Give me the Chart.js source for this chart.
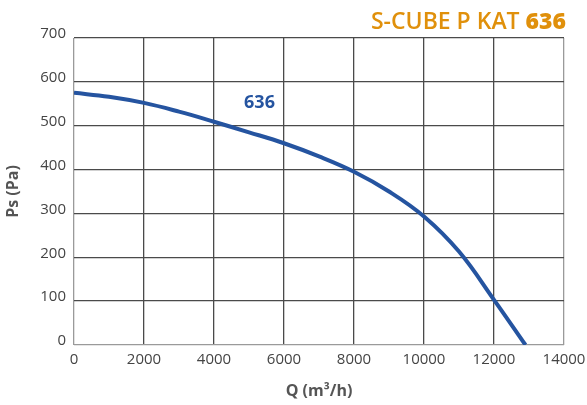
<!DOCTYPE html>
<html>
<head>
<meta charset="utf-8">
<script src="https://cdn.jsdelivr.net/npm/chart.js@4"></script>
<style>
  html, body { margin: 0; padding: 0; background: #fff; }
  #wrap { width: 587px; height: 405px; }
</style>
</head>
<body>
<div id="wrap"><canvas id="grafica" width="587" height="405"></canvas></div>
<script>
// datos
const caudal = [0, 1000, 2000, 3000, 4000, 5000, 6000, 7000, 8000, 9000, 10000, 11000, 12000, 12900];
const presion = [575, 566, 552, 532, 509, 485, 460, 430, 395, 350, 293, 213, 103, 0];
const ticksX = [0, 2000, 4000, 6000, 8000, 10000, 12000, 14000];
const ticksY = [0, 100, 200, 300, 400, 500, 600, 700];
const titulo = 'S-CUBE P KAT ';
const modelo = '636';

const fuente = '"Open Sans", sans-serif';
const puntos = caudal.map((q, i) => ({ x: q, y: presion[i] }));

// titulo y etiqueta de la curva
const textos = {
  id: 'textos',
  afterDraw(chart) {
    const ctx = chart.ctx;
    ctx.save();
    ctx.textBaseline = 'alphabetic';
    ctx.fillStyle = '#e0900b';
    ctx.font = '600 23px ' + fuente;
    const w1 = ctx.measureText(titulo).width;
    ctx.font = '800 23px ' + fuente;
    const w2 = ctx.measureText(modelo).width;
    const x0 = 566 - w1 - w2;
    ctx.font = '600 23px ' + fuente;
    ctx.fillText(titulo, x0, 29);
    ctx.font = '800 23px ' + fuente;
    ctx.fillText(modelo, x0 + w1, 29);

    const sx = chart.scales.x, sy = chart.scales.y;
    ctx.fillStyle = '#2554a0';
    ctx.font = '700 18px ' + fuente;
    ctx.textAlign = 'center';
    ctx.fillText(modelo, sx.getPixelForValue(5300), sy.getPixelForValue(540));
    ctx.restore();
  }
};

function colorRejilla(c) {
  const v = c.tick ? c.tick.value : null;
  if (v === 0 || v === 14000) return '#9a9a9a';
  return '#4a4a4a';
}

new Chart(document.getElementById('grafica'), {
  type: 'line',
  data: {
    datasets: [{
      label: modelo,
      data: puntos,
      borderColor: '#2554a0',
      borderWidth: 4,
      pointRadius: 0,
      tension: 0.4,
      fill: false
    }]
  },
  options: {
    responsive: false,
    animation: false,
    layout: { padding: { top: 38, right: 23, left: 0, bottom: 0 } },
    plugins: { legend: { display: false }, tooltip: { enabled: false } },
    scales: {
      x: {
        type: 'linear',
        min: 0, max: 14000,
        afterBuildTicks: ax => { ax.ticks = ticksX.map(v => ({ value: v })); },
        afterFit: ax => { ax.height = 60; ax.paddingRight = 0; ax.paddingLeft = 0; },
        grid: { color: colorRejilla, lineWidth: 1.3, drawTicks: false },
        border: { display: false },
        ticks: { color: '#444', font: { family: fuente, size: 15 }, padding: 6, maxRotation: 0, callback: v => String(v) },
        title: { display: true, text: 'Q (m³/h)', color: '#555', font: { family: fuente, size: 16, weight: '700' }, padding: { top: 6 } }
      },
      y: {
        min: 0, max: 700,
        afterBuildTicks: ax => { ax.ticks = ticksY.map(v => ({ value: v })); },
        afterFit: ax => { ax.width = 74; },
        grid: { color: c => (c.tick && c.tick.value === 0 ? '#9a9a9a' : '#4a4a4a'), lineWidth: 1.3, drawTicks: false },
        border: { display: false },
        ticks: { color: '#444', font: { family: fuente, size: 15 }, padding: 8, labelOffset: -4, callback: v => String(v) },
        title: { display: true, text: 'Ps (Pa)', color: '#555', font: { family: fuente, size: 16, weight: '700' }, padding: { bottom: 4 } }
      }
    }
  },
  plugins: [textos]
});
</script>
</body>
</html>
